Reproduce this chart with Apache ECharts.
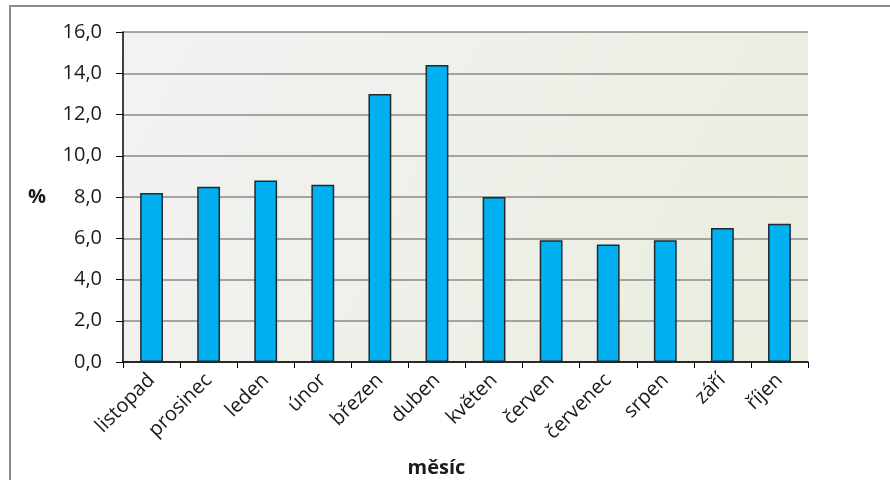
<!DOCTYPE html>
<html>
<head>
<meta charset="utf-8">
<script src="https://cdn.jsdelivr.net/npm/echarts@6/dist/echarts.min.js"></script>
<style>
  html, body { margin: 0; padding: 0; background: #ffffff; }
  #chart { width: 890px; height: 480px; }
</style>
</head>
<body>
<div id="chart"></div>
<script>
// Months (November to October)
const months = ['listopad', 'prosinec', 'leden', 'únor', 'březen', 'duben',
                'květen', 'červen', 'červenec', 'srpen', 'září', 'říjen'];
// Share per month, %
const shares = [8.2, 8.5, 8.8, 8.6, 13.0, 14.4, 8.0, 5.9, 5.7, 5.9, 6.5, 6.7];
// Value axis range
const yMin = 0;
const yMax = 16;
const yStep = 2;

const font = '"Open Sans", "DejaVu Sans", sans-serif';
const chart = echarts.init(document.getElementById('chart'), null, { renderer: 'canvas' });

chart.setOption({
  animation: false,
  backgroundColor: '#ffffff',
  graphic: [{
    type: 'rect',
    shape: { x: 10, y: 6, width: 900, height: 500 },
    style: { fill: 'none', stroke: '#8c8c8c', lineWidth: 2 },
    z: 0
  }],
  grid: {
    left: 123, top: 32, right: 82, bottom: 118,
    containLabel: false,
    outerBoundsMode: 'none',
    show: true,
    borderWidth: 0,
    backgroundColor: {
      type: 'linear', x: 0, y: 0, x2: 1, y2: 1,
      colorStops: [
        { offset: 0, color: '#f2f2f2' },
        { offset: 1, color: '#e9eedf' }
      ]
    }
  },
  xAxis: {
    type: 'category',
    data: months,
    name: 'měsíc',
    nameLocation: 'middle',
    nameGap: 96,
    nameTextStyle: {
      fontFamily: font, fontSize: 20, fontWeight: 'bold', color: '#1a1a1a',
      padding: [0, 58, 0, 0]
    },
    axisLine: { lineStyle: { color: '#000000', width: 1.5 } },
    axisTick: { show: true, length: 6, alignWithLabel: false, lineStyle: { color: '#000000' } },
    axisLabel: { rotate: 45, fontFamily: font, fontSize: 20, color: '#1a1a1a', margin: 15, interval: 0 }
  },
  yAxis: {
    type: 'value',
    min: yMin, max: yMax, interval: yStep,
    name: '%',
    nameLocation: 'middle',
    nameRotate: 0,
    nameGap: 77,
    nameTextStyle: { fontFamily: font, fontSize: 20, fontWeight: 'bold', color: '#1a1a1a' },
    axisLine: { show: true, lineStyle: { color: '#000000', width: 1.5 } },
    axisTick: { show: true, length: 7, lineStyle: { color: '#000000' } },
    axisLabel: {
      fontFamily: font, fontSize: 20, color: '#1a1a1a', margin: 21,
      formatter: v => v.toFixed(1).replace('.', ',')
    },
    splitLine: { show: true, lineStyle: { color: '#8a8a8a', width: 1.5 } }
  },
  series: [{
    type: 'bar',
    data: shares,
    barWidth: '40%',
    itemStyle: { color: '#00b0f0', borderColor: '#1f2a30', borderWidth: 1.5 }
  }]
});
</script>
</body>
</html>
